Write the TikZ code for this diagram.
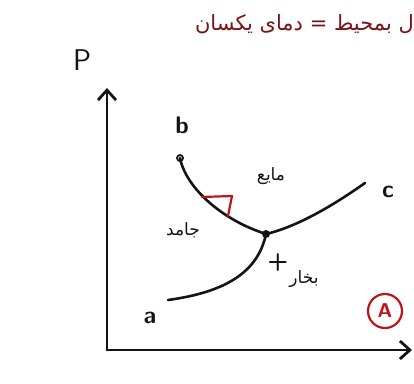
\documentclass[tikz,border=0pt]{standalone}
\usepackage{fontspec}
\newfontfamily\arabicfont[Script=Arabic]{DejaVu Sans}
\TeXXeTstate=1
\usetikzlibrary{arrows.meta}
\definecolor{ink}{RGB}{20,20,20}
\definecolor{redink}{RGB}{190,20,30}
\definecolor{darkred}{RGB}{120,20,25}
\begin{document}
\begin{tikzpicture}[x=1pt,y=-1pt,line cap=round,line join=round,
  curve/.style={draw=ink,line width=2.6pt},
  axis/.style={draw=ink,line width=2.8pt,-{Straight Barb[length=10pt,width=18pt,line width=2.8pt]}},
  latin/.style={text=ink,font=\sffamily\bfseries\fontsize{24}{24}\selectfont,inner sep=0pt},
  fa/.style={text=ink,font=\arabicfont\fontsize{17}{17}\selectfont,inner sep=0pt},
  redmark/.style={draw=redink,line width=2.2pt}]
\useasboundingbox (0,0) rectangle (414,383);
% axes
\coordinate (O) at (107,350);
\coordinate (ytop) at (107,88);
\coordinate (xend) at (412,350);
\draw[axis] (O) -- (ytop);
\draw[axis] (O) -- (xend);
\node[latin,font=\sffamily\fontsize{30}{30}\selectfont] (P) at (82,60) {P};
% points
\coordinate (bp) at (180,158);
\coordinate (T) at (266,234);
\coordinate (ce) at (365,183);
\coordinate (as) at (168,300);
\draw[ink,line width=1.8pt,fill=white] (bp) circle (3pt);
\draw[curve] (bp) .. controls (186,188) and (222,220) .. (T);
\draw[curve] (T) .. controls (300,226) and (338,202) .. (ce);
\draw[curve] (as) .. controls (226,292) and (258,272) .. (T);
\fill[ink] (T) circle (4pt);
% slope mark
\coordinate (s1) at (202,197);
\coordinate (s2) at (232,196);
\coordinate (s3) at (228,216);
\draw[redmark] (s1) -- (s2) -- (s3);
% labels
\node[latin] (lb) at (182,125) {b};
\node[latin] (lc) at (388,192) {c};
\node[latin] (la) at (150,318) {a};
\node[latin] (plus) at (278,262) {+};
\node[fa] (liq) at (271,176) {\beginR مایع\endR};
\node[fa] (sol) at (183,230) {\beginR جامد\endR};
\node[fa] (vap) at (304,279) {\beginR بخار\endR};
% circled A
\node[draw=redink,line width=2.2pt,circle,minimum width=34pt,inner sep=0pt,text=redink,font=\sffamily\bfseries\fontsize{20}{20}\selectfont] (A) at (385,311) {A};
% top text
\node[anchor=east,text=darkred,font=\arabicfont\fontsize{21}{21}\selectfont,inner sep=0pt] (top) at (414,24) {\beginR ل بمحیط = دمای یکسان\endR};
\end{tikzpicture}
\end{document}
